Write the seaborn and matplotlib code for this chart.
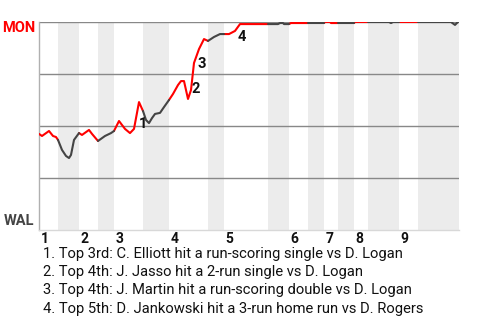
import matplotlib
matplotlib.use("Agg")
import matplotlib.pyplot as plt
import matplotlib.transforms as mtransforms
import numpy as np
import pandas as pd
import seaborn as sns

# ---------------- data ----------------
teams = ["MON", "WAL"]
team_colors = ["#ff0000", "#444444"]
innings = ["1", "2", "3", "4", "5", "6", "7", "8", "9"]
# start of each half inning along the game axis (last value = end of game)
half_bounds = [0, 19, 40, 59, 75, 104, 130, 169, 185, 229, 250, 269, 285, 299,
               315, 329, 360, 379, 420]

game_x = [0, 3, 10, 14, 17, 19,
          23, 27, 30, 32, 35, 40,
          43, 50, 53, 59,
          66, 72, 75,
          80, 86, 91, 95, 100, 104,
          107, 110, 113, 116, 121, 125, 130,
          134, 139, 142, 145, 149, 152, 155, 160, 165, 169,
          175, 181, 185,
          190, 196, 201, 215, 229,
          239, 241, 244, 245, 250,
          252, 269,
          285,
          286, 291, 292, 299,
          315,
          316, 329,
          350, 352, 354, 360,
          379,
          412, 416, 420]
mon_wp = [46.2, 45.2, 47.6, 45.2, 44.7, 43.3,
          38.5, 35.6, 34.6, 36.1, 43.3, 46.6,
          45.7, 48.1, 46.2, 42.8,
          45.2, 46.6, 47.6,
          52.4, 48.6, 46.6, 48.6, 61.5, 57.2,
          52.9, 51.4, 53.8, 55.8, 56.3, 59.1, 62.5,
          65.4, 69.7, 71.6, 71.6, 63.0, 67.3, 80.3, 87.0, 91.8, 90.9,
          92.8, 94.2, 94.2,
          94.2, 95.7, 99.0, 99.0, 99.0,
          99.0, 99.5, 99.5, 99.0, 99.0,
          99.5, 99.5,
          99.5,
          100.0, 100.0, 99.5, 99.5,
          99.5,
          100.0, 100.0,
          100.0, 99.5, 100.0, 100.0,
          100.0,
          100.0, 98.6, 100.5]

events = [
    "1. Top 3rd: C. Elliott hit a run-scoring single vs D. Logan",
    "2. Top 4th: J. Jasso hit a 2-run single vs D. Logan",
    "3. Top 4th: J. Martin hit a run-scoring double vs D. Logan",
    "4. Top 5th: D. Jankowski hit a 3-run home run vs D. Rogers",
]
event_labels = ["1", "2", "3", "4"]
event_x = [100, 153, 158, 199]
event_wp = [51.0, 68.0, 80.0, 93.0]

# ---------------- build table ----------------
rows = []
gx = np.array(game_x, dtype=float)
gw = np.array(mon_wp, dtype=float)
for i in range(len(half_bounds) - 1):
    lo, hi = half_bounds[i], half_bounds[i + 1]
    m = (gx >= lo) & (gx <= hi)
    for xv, wv in zip(gx[m], gw[m]):
        rows.append({"x": xv, "wp": wv, "half": i,
                     "side": "top" if i % 2 == 0 else "bottom"})
df = pd.DataFrame(rows)

# ---------------- figure ----------------
sns.set_theme(style="white")
plt.rcParams["font.family"] = ["Roboto", "DejaVu Sans"]

fig = plt.figure(figsize=(4.8, 3.2), dpi=100)
W, H = 480, 320
ax = fig.add_axes([39 / W, 1 - 230 / H, 420 / W, 208 / H])
ax.set_xlim(half_bounds[0], half_bounds[-1])
ax.set_ylim(0, 100)

for i in range(1, len(half_bounds) - 1, 2):
    ax.axvspan(half_bounds[i], half_bounds[i + 1], color="#ececec", lw=0, zorder=0)

for yv in [25, 50, 75, 100]:
    ax.axhline(yv, color="#888888", lw=1.0, zorder=1)

sns.lineplot(data=df, x="x", y="wp", hue="side", units="half", estimator=None,
             palette={"top": team_colors[0], "bottom": team_colors[1]},
             legend=False, linewidth=1.5, ax=ax, zorder=3, sort=False)

for lab, ex, ew in zip(event_labels, event_x, event_wp):
    ax.text(ex, ew, lab, fontsize=10.5, fontweight="bold", color="#111111",
            ha="left", va="center", zorder=4)

ax.set_xlabel("")
ax.set_ylabel("")
ax.set_xticks([])
ax.set_yticks([])
for s in ["top", "right"]:
    ax.spines[s].set_visible(False)
ax.spines["left"].set_color("#b0b0b0")
ax.spines["left"].set_linewidth(1.0)
ax.spines["bottom"].set_color("#d8d8d8")
ax.spines["bottom"].set_linewidth(1.0)

# inning numbers
trans = mtransforms.blended_transform_factory(ax.transData, ax.transAxes)
for k, lab in enumerate(innings):
    ax.text(half_bounds[2 * k] + 1.5, -0.008, lab, transform=trans,
            fontsize=10, fontweight="bold", color="#111111",
            ha="left", va="top")

# team labels
fig.text(35 / W, 1 - 28 / H, teams[0], color=team_colors[0], fontsize=10.5,
         fontweight="bold", ha="right", va="center")
fig.text(34 / W, 1 - 221 / H, teams[1], color=team_colors[1], fontsize=10.5,
         fontweight="bold", ha="right", va="center")

# event captions
for j, t in enumerate(events):
    fig.text(43 / W, 1 - (254 + 18.2 * j) / H, t, fontsize=10.6,
             color="#111111", ha="left", va="center")

fig.savefig("out.png", dpi=100)
